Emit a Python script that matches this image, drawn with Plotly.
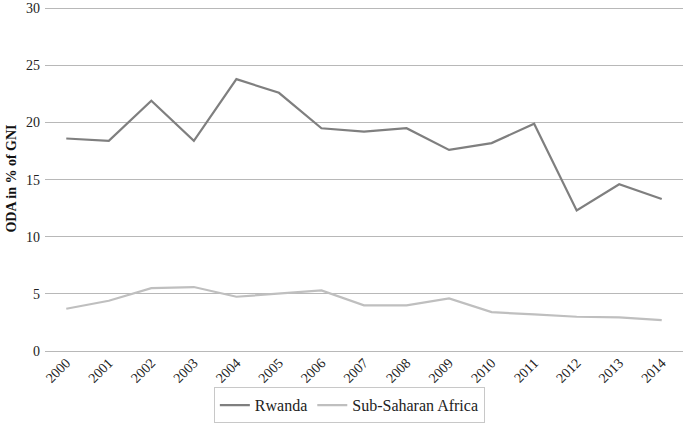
import plotly.graph_objects as go

years = [str(y) for y in range(2000, 2015)]
rwanda = [18.6, 18.4, 21.9, 18.4, 23.8, 22.6, 19.5, 19.2, 19.5, 17.6, 18.2, 19.9, 12.3, 14.6, 13.3]
ssa = [3.7, 4.4, 5.5, 5.6, 4.75, 5.05, 5.3, 4.0, 4.0, 4.6, 3.4, 3.2, 3.0, 2.95, 2.7]

font = "Liberation Serif, Times New Roman, serif"

fig = go.Figure()
fig.add_trace(go.Scatter(x=years, y=rwanda, mode="lines", name="Rwanda",
                         line=dict(color="#7f7f7f", width=2.2)))
fig.add_trace(go.Scatter(x=years, y=ssa, mode="lines", name="Sub-Saharan Africa",
                         line=dict(color="#bfbfbf", width=2.2)))

fig.update_layout(
    width=685, height=425,
    margin=dict(l=45, r=2, t=6, b=74, autoexpand=False),
    paper_bgcolor="white", plot_bgcolor="white",
    font=dict(family=font, size=14, color="#333333"),
    showlegend=True,
    legend=dict(orientation="h", xref="container", yref="container",
                x=0.51, y=0.004, xanchor="center", yanchor="bottom",
                bordercolor="#c8c8c8", borderwidth=1,
                font=dict(family=font, size=16, color="#222222"),
                itemwidth=30),
    xaxis=dict(type="category", range=[-0.5, 14.5], tickangle=-45, showgrid=False,
               showline=False, ticks="", automargin=False,
               tickfont=dict(family=font, size=14, color="#222222")),
    yaxis=dict(range=[0, 30.2], dtick=5, tick0=0, showgrid=True, gridcolor="#b8b8b8",
               gridwidth=1, zeroline=True, zerolinecolor="#b8b8b8", zerolinewidth=1,
               showline=False, automargin=False, ticklabelstandoff=4,
               tickfont=dict(family=font, size=14, color="#222222"),
               title=dict(text="<b>ODA in % of GNI</b>",
                          font=dict(family=font, size=14, color="#111111"), standoff=6)),
)

# remove the browser's default 8px body margin so the figure sits at the page origin
fig.write_html("out.html", config={"displayModeBar": False},
               post_script="document.body.style.margin='0';")
